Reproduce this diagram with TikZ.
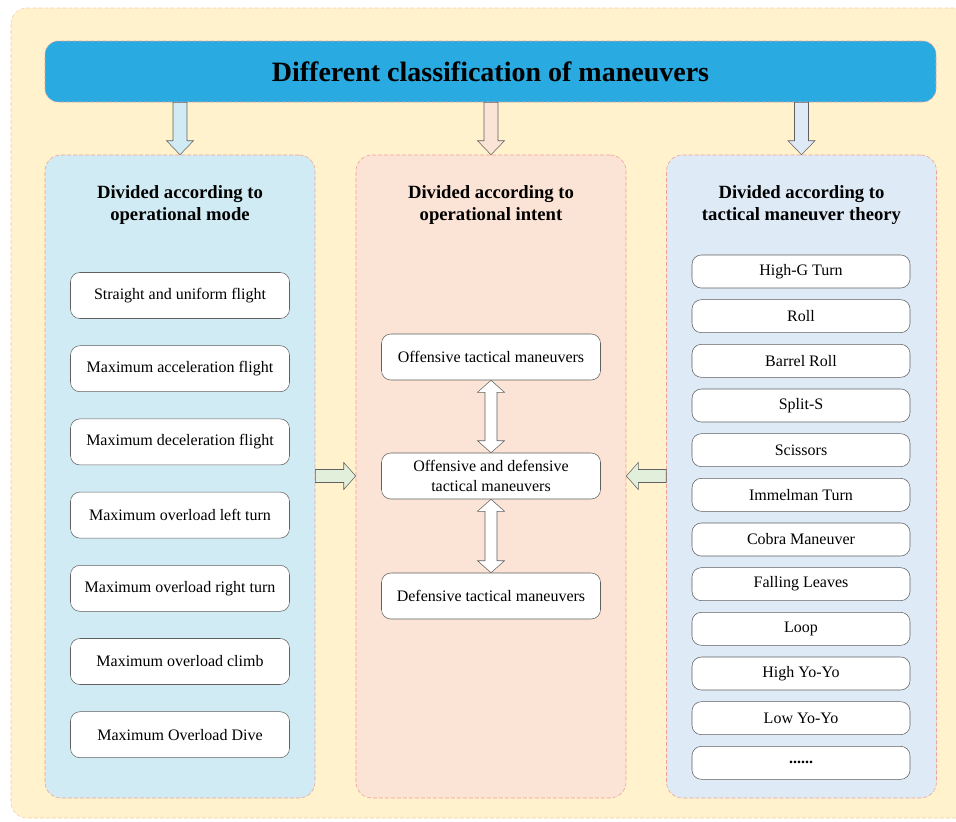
\documentclass[tikz,border=0pt]{standalone}
\usepackage{fontspec}
\setmainfont{Liberation Serif}
\usepackage{tikz}
\usetikzlibrary{%
  calc,%
  positioning,%
}

\definecolor{bgyellow}{RGB}{255,242,204}
\definecolor{bgline}{RGB}{246,205,170}
\definecolor{titleblue}{RGB}{41,171,226}
\definecolor{panelline}{RGB}{240,160,150}
\definecolor{modeblue}{RGB}{208,235,243}
\definecolor{intentpeach}{RGB}{251,228,213}
\definecolor{theoryblue}{RGB}{222,234,246}
\definecolor{sidegreen}{RGB}{226,239,218}
\definecolor{itemline}{RGB}{96,96,96}

\begin{document}
\begin{tikzpicture}[x=0.75pt, y=0.75pt,
    panel/.style={draw=panelline, dash pattern=on 3pt off 1.5pt, rounded corners=12pt, minimum width=202.5pt, minimum height=482.25pt},
    header/.style={align=center, font=\fontsize{14}{16.5}\selectfont\bfseries},
    bigitem/.style={draw=itemline, fill=white, rounded corners=7pt, minimum width=164.25pt, minimum height=34.5pt, align=center, font=\fontsize{12}{15}\selectfont},
    smallitem/.style={draw=itemline, fill=white, rounded corners=7pt, minimum width=163.5pt, minimum height=24.75pt, font=\fontsize{12}{15}\selectfont},
    blockarrow/.style={draw=itemline, line join=miter},
  ]
  \useasboundingbox (0,0) rectangle (956,-821);
  \fill [bgyellow, draw=bgline, dash pattern=on 3pt off 1.5pt, rounded corners=12pt] (11,-8) rectangle (975,-818);

  % title bar
  \node [fill=titleblue, draw=panelline, dash pattern=on 3pt off 1.5pt, rounded corners=10pt, minimum width=668.25pt, minimum height=45.75pt, font=\fontsize{21}{24}\selectfont\bfseries] (title) at (490.5,-71.5) {Different classification of maneuvers};

  % the three panels
  \node [panel, fill=modeblue] (mode) at (180,-476.5) {};
  \node [panel, fill=intentpeach] (intent) at (491,-476.5) {};
  \node [panel, fill=theoryblue] (theory) at (801.5,-476.5) {};
  \node [header] (modehead) at ([yshift=-37.5pt]mode.north) {Divided according to \\ operational mode};
  \node [header] (intenthead) at ([yshift=-37.5pt]intent.north) {Divided according to \\ operational intent};
  \node [header] (theoryhead) at ([yshift=-37.5pt]theory.north) {Divided according to \\ tactical maneuver theory};

  % arrows from the title
  \draw [blockarrow, fill=modeblue] ($(title.south -| mode.north)+(-7,0)$) -- ($(mode.north)+(-7,14)$) -- ($(mode.north)+(-13.5,14)$) -- (mode.north) -- ($(mode.north)+(13.5,14)$) -- ($(mode.north)+(7,14)$) -- ($(title.south -| mode.north)+(7,0)$) -- cycle;
  \draw [blockarrow, fill=intentpeach] ($(title.south -| intent.north)+(-7,0)$) -- ($(intent.north)+(-7,14)$) -- ($(intent.north)+(-13.5,14)$) -- (intent.north) -- ($(intent.north)+(13.5,14)$) -- ($(intent.north)+(7,14)$) -- ($(title.south -| intent.north)+(7,0)$) -- cycle;
  \draw [blockarrow, fill=theoryblue] ($(title.south -| theory.north)+(-7,0)$) -- ($(theory.north)+(-7,14)$) -- ($(theory.north)+(-13.5,14)$) -- (theory.north) -- ($(theory.north)+(13.5,14)$) -- ($(theory.north)+(7,14)$) -- ($(title.south -| theory.north)+(7,0)$) -- cycle;

  % operational mode
  \node [bigitem] (straight) at (180,-295.5) {Straight and uniform flight};
  \node [bigitem, below=20pt of straight] (accel) {Maximum acceleration flight};
  \node [bigitem, below=20pt of accel] (decel) {Maximum deceleration flight};
  \node [bigitem, below=20pt of decel] (leftturn) {Maximum overload left turn};
  \node [bigitem, below=20pt of leftturn] (rightturn) {Maximum overload right turn};
  \node [bigitem, below=20pt of rightturn] (climb) {Maximum overload climb};
  \node [bigitem, below=20pt of climb] (dive) {Maximum Overload Dive};

  % operational intent
  \node [bigitem] (offensive) at (491,-357) {Offensive tactical maneuvers};
  \node [bigitem] (both) at (491,-476) {Offensive and defensive \\ tactical maneuvers};
  \node [bigitem] (defensive) at (491,-596) {Defensive tactical maneuvers};
  \draw [blockarrow, fill=white] (offensive.south) -- ($(offensive.south)+(13.5,-12)$) -- ($(offensive.south)+(6,-12)$) -- ($(both.north)+(6,12)$) -- ($(both.north)+(13.5,12)$) -- (both.north) -- ($(both.north)+(-13.5,12)$) -- ($(both.north)+(-6,12)$) -- ($(offensive.south)+(-6,-12)$) -- ($(offensive.south)+(-13.5,-12)$) -- cycle;
  \draw [blockarrow, fill=white] (both.south) -- ($(both.south)+(13.5,-12)$) -- ($(both.south)+(6,-12)$) -- ($(defensive.north)+(6,12)$) -- ($(defensive.north)+(13.5,12)$) -- (defensive.north) -- ($(defensive.north)+(-13.5,12)$) -- ($(defensive.north)+(-6,12)$) -- ($(both.south)+(-6,-12)$) -- ($(both.south)+(-13.5,-12)$) -- cycle;

  % side arrows into the middle panel
  \draw [blockarrow, fill=sidegreen] ($(mode.east |- both)+(0,6.5)$) -- ($(intent.west |- both)+(-12,6.5)$) -- ($(intent.west |- both)+(-12,13.5)$) -- (intent.west |- both) -- ($(intent.west |- both)+(-12,-13.5)$) -- ($(intent.west |- both)+(-12,-6.5)$) -- ($(mode.east |- both)+(0,-6.5)$) -- cycle;
  \draw [blockarrow, fill=sidegreen] ($(theory.west |- both)+(0,6.5)$) -- ($(intent.east |- both)+(12,6.5)$) -- ($(intent.east |- both)+(12,13.5)$) -- (intent.east |- both) -- ($(intent.east |- both)+(12,-13.5)$) -- ($(intent.east |- both)+(12,-6.5)$) -- ($(theory.west |- both)+(0,-6.5)$) -- cycle;

  % tactical maneuver theory
  \node [smallitem] (highg) at (801,-271.5) {High-G Turn};
  \node [smallitem, below=8.35pt of highg] (roll) {Roll};
  \node [smallitem, below=8.35pt of roll] (barrel) {Barrel Roll};
  \node [smallitem, below=8.35pt of barrel] (splits) {Split-S};
  \node [smallitem, below=8.35pt of splits] (scissors) {Scissors};
  \node [smallitem, below=8.35pt of scissors] (immelman) {Immelman Turn};
  \node [smallitem, below=8.35pt of immelman] (cobra) {Cobra Maneuver};
  \node [smallitem, below=8.35pt of cobra] (leaves) {Falling Leaves};
  \node [smallitem, below=8.35pt of leaves] (loop) {Loop};
  \node [smallitem, below=8.35pt of loop] (highyoyo) {High Yo-Yo};
  \node [smallitem, below=8.35pt of highyoyo] (lowyoyo) {Low Yo-Yo};
  \node [smallitem, below=8.35pt of lowyoyo] (more) {\textbf{......}};
\end{tikzpicture}
\end{document}
